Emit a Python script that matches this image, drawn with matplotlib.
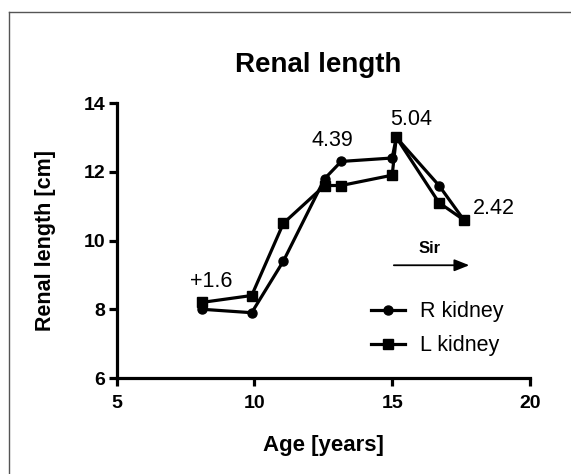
import matplotlib
matplotlib.use('Agg')
from matplotlib import pyplot as plt
from matplotlib.lines import Line2D

plt.rcParams['font.family'] = ['Liberation Sans', 'DejaVu Sans']

# Age of each measurement (years)
age = [8.1, 9.9, 11.05, 12.55, 13.15, 15.0, 15.15, 16.7, 17.6]
# Renal length (cm)
r_kidney = [8.0, 7.9, 9.4, 11.8, 12.3, 12.4, 13.0, 11.6, 10.6]
l_kidney = [8.2, 8.4, 10.5, 11.6, 11.6, 11.9, 13.0, 11.1, 10.6]

# Annotations: (text, x, y)
notes = [('+1.6', 8.44, 8.8), ('4.39', 12.84, 12.92), ('5.04', 15.69, 13.53), ('2.42', 18.71, 10.94)]

fig = plt.figure(figsize=(5.71, 4.74), dpi=100)
ax = fig.add_axes([0.2044, 0.2025, 0.7236, 0.5802])

ax.plot(age, r_kidney, color='black', lw=2.3, marker='o', ms=6.5, label='R kidney')
ax.plot(age, l_kidney, color='black', lw=2.3, marker='s', ms=7, label='L kidney')

ax.set_xlim(5, 20)
ax.set_ylim(6, 14)
ax.set_xticks([5, 10, 15, 20])
ax.set_yticks([6, 8, 10, 12, 14])

for side in ['top', 'right']:
    ax.spines[side].set_visible(False)
for side in ['left', 'bottom']:
    ax.spines[side].set_linewidth(2.3)
ax.tick_params(width=2.3, length=6, labelsize=14)
ax.tick_params(axis='x', pad=6.5)
ax.tick_params(axis='y', pad=2)
for lab in ax.get_xticklabels() + ax.get_yticklabels():
    lab.set_fontweight('bold')

ax.set_title('Renal length', fontsize=20, fontweight='bold', pad=22, x=0.488)
ax.set_xlabel('Age [years]', fontsize=16, fontweight='bold', labelpad=16)
ax.set_ylabel('Renal length [cm]', fontsize=15.5, fontweight='bold', labelpad=20)

for txt, x, y in notes:
    ax.text(x, y, txt, fontsize=15.5, ha='center', va='center')

ax.text(16.35, 9.78, 'Sir', fontsize=12, fontweight='bold', ha='center', va='center')
ax.annotate('', xy=(17.9, 9.28), xytext=(14.96, 9.28),
            arrowprops=dict(arrowstyle='-|>,head_length=0.5,head_width=0.2', color='black',
                            lw=1.3, mutation_scale=18))

ax.legend(loc='center left', bbox_to_anchor=(0.615, 0.1785), frameon=False,
          fontsize=15.5, numpoints=1, handlelength=1.6, handletextpad=0.7,
          labelspacing=0.6, borderpad=0, borderaxespad=0)

# thin frame around the figure panel
fig.add_artist(Line2D([9 / 571, 9 / 571], [0, 1 - 12 / 474], color='#555555', lw=1))
fig.add_artist(Line2D([9 / 571, 1], [1 - 12 / 474, 1 - 12 / 474], color='#555555', lw=1))

fig.savefig('out.png', dpi=100)
